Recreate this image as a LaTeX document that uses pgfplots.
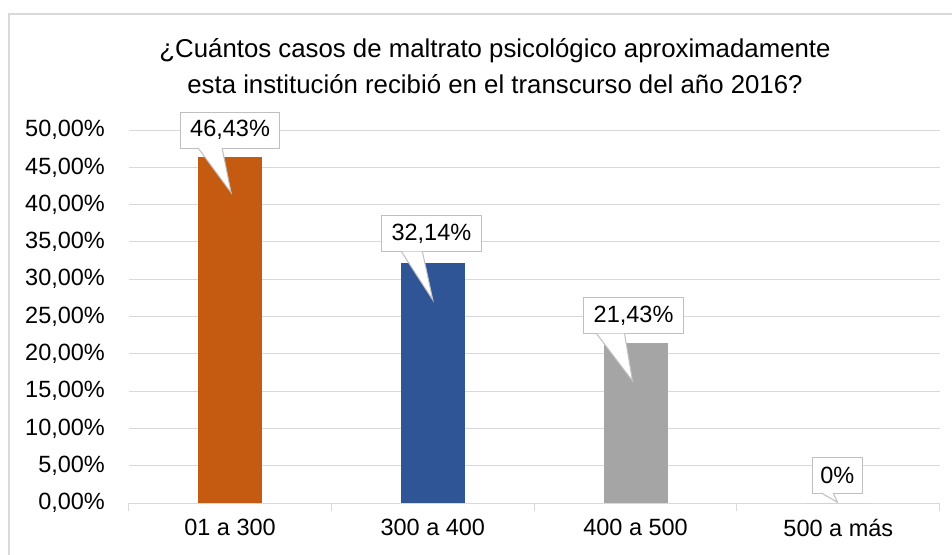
\documentclass[border=0pt]{standalone}
\usepackage{pgfplots}
\pgfplotsset{compat=1.18}
\usepackage{fontspec}
\setmainfont{Liberation Sans}
\definecolor{cOrange}{HTML}{C55A11}
\definecolor{cBlue}{HTML}{2F5597}
\definecolor{cGray}{HTML}{A5A5A5}
\definecolor{gridc}{HTML}{D9D9D9}
\definecolor{borderc}{HTML}{D9D9D9}
\definecolor{calloutc}{HTML}{BFBFBF}
\begin{document}
\begin{tikzpicture}[x=1pt,y=1pt]
\useasboundingbox (0,0) rectangle (952,554);
\draw[borderc, line width=1.5pt] (9,-10) -- (9,540) -- (960,540);
\node[align=center, font=\fontsize{25.8}{36}\selectfont] at (495,488) {¿Cuántos casos de maltrato psicológico aproximadamente\\esta institución recibió en el transcurso del año 2016?};
\begin{axis}[
  at={(128.7pt,51pt)}, anchor=south west,
  scale only axis, width=811pt, height=373pt,
  xmin=-0.5, xmax=3.5, ymin=0, ymax=50,
  axis x line*=bottom, axis y line*=left,
  y axis line style={draw=none},
  x axis line style={draw=gridc, line width=1pt},
  ytick={0,5,...,50},
  yticklabels={{0,00\%},{5,00\%},{10,00\%},{15,00\%},{20,00\%},{25,00\%},{30,00\%},{35,00\%},{40,00\%},{45,00\%},{50,00\%}},
  ytick style={draw=none},
  ymajorgrids, grid style={draw=gridc, line width=1pt},
  xtick={0,1,2,3},
  xticklabels={01 a 300,300 a 400,400 a 500,500 a más},
  major x tick style={draw=none},
  minor xtick={-0.5,0.5,1.5,2.5,3.5},
  minor x tick style={draw=gridc, line width=1pt},
  minor tick length=8pt,
  tick align=outside,
  ticklabel style={font=\fontsize{23.5}{28}\selectfont, text=black},
  xticklabel style={yshift=-8pt},
  yticklabel style={xshift=-16pt},
  clip=false,
]
\addplot[ybar, bar width=64pt, bar shift=0pt, fill=cOrange, draw=none] coordinates {(0,46.43)};
\addplot[ybar, bar width=64pt, bar shift=0pt, fill=cBlue, draw=none] coordinates {(1,32.14)};
\addplot[ybar, bar width=64pt, bar shift=0pt, fill=cGray, draw=none] coordinates {(2,21.43)};
\addplot[ybar, bar width=64pt, bar shift=0pt, fill=cGray, draw=none] coordinates {(3,0)};
\tikzset{lbl/.style={rectangle, draw=calloutc, line width=1pt, fill=white, inner xsep=10pt, minimum height=36pt, font=\fontsize{23.5}{28}\selectfont},
  ptr/.style={draw=calloutc, line width=1pt, fill=white, line join=miter}}
\node[lbl] (b1) at (axis cs:0,50) {46,43\%};
\draw[ptr] ([xshift=-32pt,yshift=0.6pt]b1.south) -- (axis cs:0.005,41.6) -- ([xshift=-8pt,yshift=0.6pt]b1.south);
\node[lbl] (b2) at (axis cs:0.993,36.1) {32,14\%};
\draw[ptr] ([xshift=-30pt,yshift=0.6pt]b2.south) -- (axis cs:1.0,27.2) -- ([xshift=-9pt,yshift=0.6pt]b2.south);
\node[lbl] (b3) at (axis cs:1.99,25.1) {21,43\%};
\draw[ptr] ([xshift=-37pt,yshift=0.6pt]b3.south) -- (axis cs:1.985,16.35) -- ([xshift=-9pt,yshift=0.6pt]b3.south);
\node[lbl, inner xsep=8pt] (b4) at (axis cs:2.995,3.75) {0\%};
\draw[ptr] ([xshift=-16pt,yshift=0.6pt]b4.south) -- (axis cs:2.995,0.1) -- ([xshift=-4pt,yshift=0.6pt]b4.south);
\end{axis}
\end{tikzpicture}
\end{document}
